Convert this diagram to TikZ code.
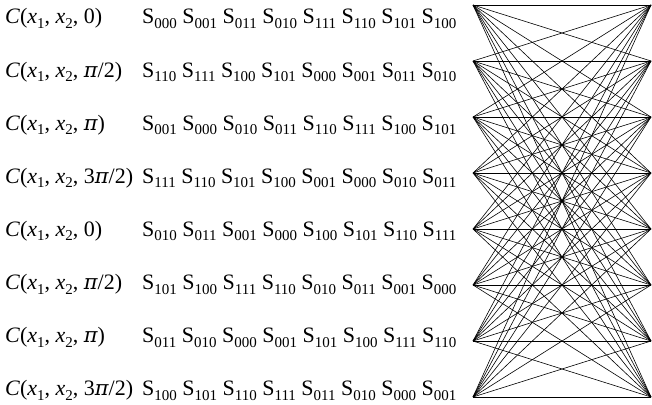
\documentclass[tikz,border=0pt]{standalone}
\usepackage{fontspec}
\setmainfont{Liberation Serif}
\newfontfamily\pifont[Scale=0.95]{DejaVu Serif}
\newcommand\sbx[1]{\raisebox{-0.2em}{\fontsize{15pt}{15pt}\selectfont #1}}
\newcommand\Sx[1]{S\sbx{#1}}
\newcommand\mypi{{\pifont\itshape π}}
\newcommand\Clab[1]{\textit{C}(\textit{x}\sbx{1}, \textit{x}\sbx{2}, #1)}
\begin{document}
\begin{tikzpicture}[x=1pt,y=-1pt,
  txt/.style={anchor=base west,inner sep=0pt,font=\fontsize{22pt}{26pt}\selectfont},
  edge/.style={draw=black,line width=0.6pt}]
\useasboundingbox (0,0) rectangle (652,404);
\foreach \i in {1,...,8}{
  \coordinate (L\i) at (473,{5+56*(\i-1)});
  \coordinate (R\i) at (651,{5+56*(\i-1)});
}
\foreach \i in {1,...,8}{
  \foreach \j in {1,...,8}{
    \draw[edge] (L\i) -- (R\j);
  }
}
\def\bl#1{{24+53.14*(#1-1)}}
\node[txt] (c1) at (5,\bl{1}) {\Clab{0}};
\node[txt] (c2) at (5,\bl{2}) {\Clab{\mypi/2}};
\node[txt] (c3) at (5,\bl{3}) {\Clab{\mypi}};
\node[txt] (c4) at (5,\bl{4}) {\Clab{3\mypi/2}};
\node[txt] (c5) at (5,\bl{5}) {\Clab{0}};
\node[txt] (c6) at (5,\bl{6}) {\Clab{\mypi/2}};
\node[txt] (c7) at (5,\bl{7}) {\Clab{\mypi}};
\node[txt] (c8) at (5,\bl{8}) {\Clab{3\mypi/2}};
\node[txt] (s1) at (142,\bl{1}) {\Sx{000} \Sx{001} \Sx{011} \Sx{010} \Sx{111} \Sx{110} \Sx{101} \Sx{100}};
\node[txt] (s2) at (142,\bl{2}) {\Sx{110} \Sx{111} \Sx{100} \Sx{101} \Sx{000} \Sx{001} \Sx{011} \Sx{010}};
\node[txt] (s3) at (142,\bl{3}) {\Sx{001} \Sx{000} \Sx{010} \Sx{011} \Sx{110} \Sx{111} \Sx{100} \Sx{101}};
\node[txt] (s4) at (142,\bl{4}) {\Sx{111} \Sx{110} \Sx{101} \Sx{100} \Sx{001} \Sx{000} \Sx{010} \Sx{011}};
\node[txt] (s5) at (142,\bl{5}) {\Sx{010} \Sx{011} \Sx{001} \Sx{000} \Sx{100} \Sx{101} \Sx{110} \Sx{111}};
\node[txt] (s6) at (142,\bl{6}) {\Sx{101} \Sx{100} \Sx{111} \Sx{110} \Sx{010} \Sx{011} \Sx{001} \Sx{000}};
\node[txt] (s7) at (142,\bl{7}) {\Sx{011} \Sx{010} \Sx{000} \Sx{001} \Sx{101} \Sx{100} \Sx{111} \Sx{110}};
\node[txt] (s8) at (142,\bl{8}) {\Sx{100} \Sx{101} \Sx{110} \Sx{111} \Sx{011} \Sx{010} \Sx{000} \Sx{001}};
\end{tikzpicture}
\end{document}
